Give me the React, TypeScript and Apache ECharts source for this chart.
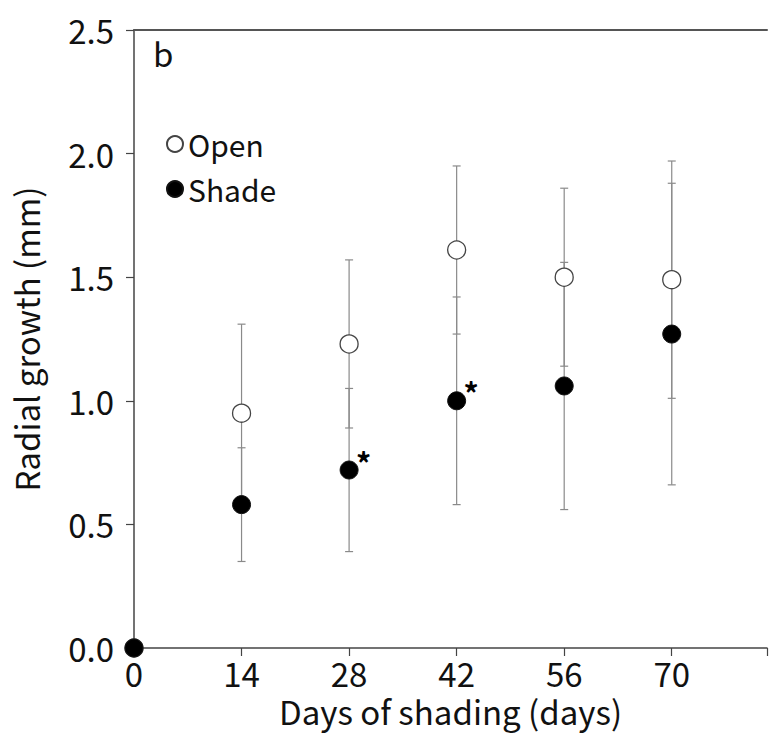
import React, { useEffect, useRef } from "react";
import * as echarts from "echarts";

const days = [0, 14, 28, 42, 56, 70];
const xTicks = [0, 14, 28, 42, 56, 70];
const openMean = [0, 0.95, 1.23, 1.61, 1.5, 1.49];
const openErr = [0, 0.36, 0.34, 0.34, 0.36, 0.48];
const shadeMean = [0, 0.58, 0.72, 1.0, 1.06, 1.27];
const shadeErr = [0, 0.23, 0.33, 0.42, 0.5, 0.61];
const significance = ["", "", "*", "*", "", ""];
const yTicks = ["0.0", "0.5", "1.0", "1.5", "2.0", "2.5"];

const FONT = "Noto Sans CJK SC";

export default function App() {
  const ref = useRef<HTMLDivElement>(null);
  useEffect(() => {
    document.body.style.margin = "0";
    if (!ref.current) return;
    const chart = echarts.init(ref.current, null, { renderer: "svg" });

    const errData = (means: number[], errs: number[]) =>
      days.map((d, i) => [d, means[i] - errs[i], means[i] + errs[i]]);

    const renderErr = (params: any, api: any) => {
      const x = api.value(0);
      const lo = api.coord([x, api.value(1)]);
      const hi = api.coord([x, api.value(2)]);
      const cap = 4;
      const style = { stroke: "#8a8a8a", lineWidth: 1.2 };
      return {
        type: "group",
        children: [
          { type: "line", shape: { x1: lo[0], y1: lo[1], x2: hi[0], y2: hi[1] }, style },
          { type: "line", shape: { x1: lo[0] - cap, y1: lo[1], x2: lo[0] + cap, y2: lo[1] }, style },
          { type: "line", shape: { x1: hi[0] - cap, y1: hi[1], x2: hi[0] + cap, y2: hi[1] }, style },
        ],
      };
    };

    chart.setOption({
      animation: false,
      textStyle: { fontFamily: FONT },
      grid: { left: 134, top: 30, right: 0, bottom: 89 },
      legend: {
        orient: "vertical",
        left: 161,
        top: 124,
        itemWidth: 16,
        itemHeight: 16,
        itemGap: 15,
        icon: "circle",
        textStyle: { fontSize: 30, color: "#111", fontFamily: FONT },
        data: ["Open", "Shade"],
      },
      xAxis: [
        {
          type: "value",
          min: 0,
          max: 82.4,
          interval: 14,
          position: "bottom",
          name: "Days of shading (days)",
          nameLocation: "middle",
          nameGap: 41,
          nameTextStyle: { fontSize: 33, lineHeight: 26, color: "#111", fontFamily: FONT },
          axisLine: { show: true, lineStyle: { color: "#444", width: 1.5 } },
          axisTick: { show: true, inside: false, length: 8, lineStyle: { color: "#444", width: 1.2 } },
          axisLabel: {
            fontSize: 33,
            lineHeight: 26,
            color: "#111",
            margin: 12,
            fontFamily: FONT,
            formatter: (v: number) => (xTicks.includes(v) ? String(v) : ""),
          },
          splitLine: { show: false },
        },
        {
          type: "value",
          min: 0,
          max: 82.4,
          position: "top",
          axisLine: { show: true, lineStyle: { color: "#555", width: 2 } },
          axisTick: { show: false },
          axisLabel: { show: false },
          splitLine: { show: false },
        },
      ],
      yAxis: {
        type: "value",
        min: 0,
        max: 2.5,
        interval: 0.5,
        name: "Radial growth (mm)",
        nameLocation: "middle",
        nameGap: 92,
        nameTextStyle: { fontSize: 33, color: "#111", fontFamily: FONT },
        axisLine: { show: true, lineStyle: { color: "#444", width: 1.5 } },
        axisTick: { show: true, inside: false, length: 8, lineStyle: { color: "#444", width: 1.2 } },
        axisLabel: {
          fontSize: 33,
          color: "#111",
          margin: 20,
          fontFamily: FONT,
          formatter: (v: number) => yTicks[Math.round(v / 0.5)] ?? "",
        },
        splitLine: { show: false },
      },
      graphic: [
        {
          type: "text",
          left: 153,
          top: 36,
          style: { text: "b", fontSize: 33, fill: "#111", fontFamily: FONT },
        },
      ],
      series: [
        {
          name: "OpenErr",
          type: "custom",
          data: errData(openMean, openErr),
          renderItem: renderErr,
          z: 1,
          silent: true,
        },
        {
          name: "ShadeErr",
          type: "custom",
          data: errData(shadeMean, shadeErr),
          renderItem: renderErr,
          z: 1,
          silent: true,
        },
        {
          name: "Open",
          type: "scatter",
          data: days.map((d, i) => [d, openMean[i]]),
          symbol: "circle",
          symbolSize: 18,
          itemStyle: { color: "#ffffff", borderColor: "#444", borderWidth: 1.3, opacity: 1 },
          z: 3,
        },
        {
          name: "Shade",
          type: "scatter",
          data: days.map((d, i) => ({
            value: [d, shadeMean[i]],
            label: {
              show: significance[i] !== "",
              formatter: significance[i],
              position: [24, 1],
              align: "center",
              verticalAlign: "middle",
              fontSize: 30,
              fontWeight: "bold",
              color: "#000",
              opacity: 1,
              fontFamily: FONT,
            },
          })),
          symbol: "circle",
          symbolSize: 18,
          itemStyle: { color: "#000000", borderColor: "#111", borderWidth: 1, opacity: 1 },
          z: 4,
        },
      ],
    });
    return () => chart.dispose();
  }, []);
  return <div ref={ref} style={{ width: 770, height: 737 }} />;
}
